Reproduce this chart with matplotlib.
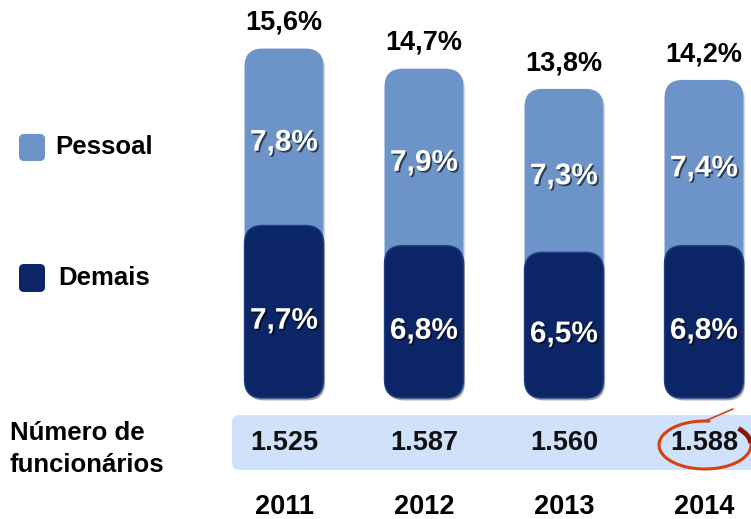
import matplotlib
matplotlib.use("Agg")
import matplotlib.pyplot as plt
from matplotlib.patches import FancyBboxPatch, Arc
import matplotlib.patheffects as pe

plt.rcParams['font.family'] = ['Liberation Sans', 'DejaVu Sans']

years = ["2011", "2012", "2013", "2014"]
pessoal = [7.8, 7.9, 7.3, 7.4]
demais = [7.7, 6.8, 6.5, 6.8]
totals = [15.6, 14.7, 13.8, 14.2]
funcionarios = ["1.525", "1.587", "1.560", "1.588"]
pessoal_labels = ["7,8%", "7,9%", "7,3%", "7,4%"]
demais_labels = ["7,7%", "6,8%", "6,5%", "6,8%"]
total_labels = ["15,6%", "14,7%", "13,8%", "14,2%"]

W, H = 751, 519
PXX, PXY = 140.0, 22.4  # pixels per data unit
X0, Y0 = 284.0, 398.0   # pixel of data origin

def dx(px):
    return (px - X0) / PXX

def dy(py):
    return (Y0 - py) / PXY

fig = plt.figure(figsize=(W / 100, H / 100), dpi=100)
ax = fig.add_axes([0, 0, 1, 1])
ax.set_xlim(dx(0), dx(W))
ax.set_ylim(dy(H), dy(0))
ax.axis('off')

c_light = '#6c94c8'
c_dark = '#0c2566'
bw = 79 / PXX
r = 18 / PXX
asp = PXX / PXY

white_fx = [pe.withSimplePatchShadow(offset=(1.2, -1.2), shadow_rgbFace='black', alpha=0.6)]

x = list(range(len(years)))
for i in x:
    tot_h = totals[i]
    sh = FancyBboxPatch((i - bw / 2 + 0.012, -0.12), bw, tot_h,
                        boxstyle=f"round,pad=0,rounding_size={r}",
                        mutation_aspect=asp, fc='#bbbbbb', ec='none', alpha=0.5, zorder=1)
    ax.add_patch(sh)
    light = FancyBboxPatch((i - bw / 2, 0), bw, tot_h,
                           boxstyle=f"round,pad=0,rounding_size={r}",
                           mutation_aspect=asp, fc=c_light, ec='none', zorder=2)
    ax.add_patch(light)
    dsh = FancyBboxPatch((i - bw / 2 + 0.01, -0.1), bw, demais[i],
                         boxstyle=f"round,pad=0,rounding_size={r}",
                         mutation_aspect=asp, fc='#333333', ec='none', alpha=0.35, zorder=2.5)
    ax.add_patch(dsh)
    dark = FancyBboxPatch((i - bw / 2, 0), bw, demais[i],
                          boxstyle=f"round,pad=0,rounding_size={r}",
                          mutation_aspect=asp, fc=c_dark, ec='#1d3d85', lw=1.0, zorder=3)
    ax.add_patch(dark)
    ax.text(i, demais[i] + (tot_h - demais[i]) / 2 - 0.25, pessoal_labels[i],
            ha='center', va='center', color='white', fontsize=21.5, fontweight='bold',
            path_effects=white_fx, zorder=5)
    ax.text(i, demais[i] / 2 - 0.4, demais_labels[i],
            ha='center', va='center', color='white', fontsize=21.5, fontweight='bold',
            path_effects=white_fx, zorder=5)
    ax.text(i, tot_h + 1.15, total_labels[i], ha='center', va='center',
            color='black', fontsize=19.5, fontweight='bold', zorder=5)

# employee band
band = FancyBboxPatch((dx(232), dy(470)), dx(800) - dx(232), dy(415) - dy(470),
                      boxstyle=f"round,pad=0,rounding_size={8 / PXX}",
                      mutation_aspect=asp, fc='#cfe1fb', ec='none', zorder=1)
ax.add_patch(band)
for i in x:
    ax.text(i, dy(443), funcionarios[i], ha='center', va='center', color='#111111',
            fontsize=19.5, fontweight='bold', zorder=5)
    ax.text(i, dy(507), years[i], ha='center', va='center', color='black',
            fontsize=19.5, fontweight='bold', zorder=5)

# highlight ellipse around last value
cx, cy = 3 + 1 / PXX, dy(445)
ew, eh = 92 / PXX, 48 / PXY
ax.add_patch(Arc((cx, cy), ew, eh, theta1=88, theta2=400,
                 color='#d8400f', lw=2.2, zorder=6))
ax.add_patch(Arc((cx, cy), ew, eh, theta1=15, theta2=72,
                 color='#8a1a05', lw=3.5, zorder=6))
ax.plot([dx(705), dx(733)], [dy(421), dy(409)], color='#d8400f', lw=1.2, zorder=6,
        solid_capstyle='round')

ax.text(dx(10), dy(433), "Número de", ha='left', va='center', fontsize=18.5,
        fontweight='bold', color='black')
ax.text(dx(10), dy(465), "funcionários", ha='left', va='center', fontsize=18.5,
        fontweight='bold', color='black')

# legend
for (top, bot, col, lab, lx) in [(134, 161, c_light, "Pessoal", 55), (264, 292, c_dark, "Demais", 58)]:
    ax.add_patch(FancyBboxPatch((dx(19), dy(bot)), dx(45) - dx(19), dy(top) - dy(bot),
                                boxstyle=f"round,pad=0,rounding_size={5 / PXX}",
                                mutation_aspect=asp, fc=col, ec='none', zorder=3))
    ax.text(dx(lx), dy((top + bot) / 2), lab, ha='left', va='center', fontsize=18.5,
            fontweight='bold', color='black')

fig.savefig("out.png", dpi=100)
